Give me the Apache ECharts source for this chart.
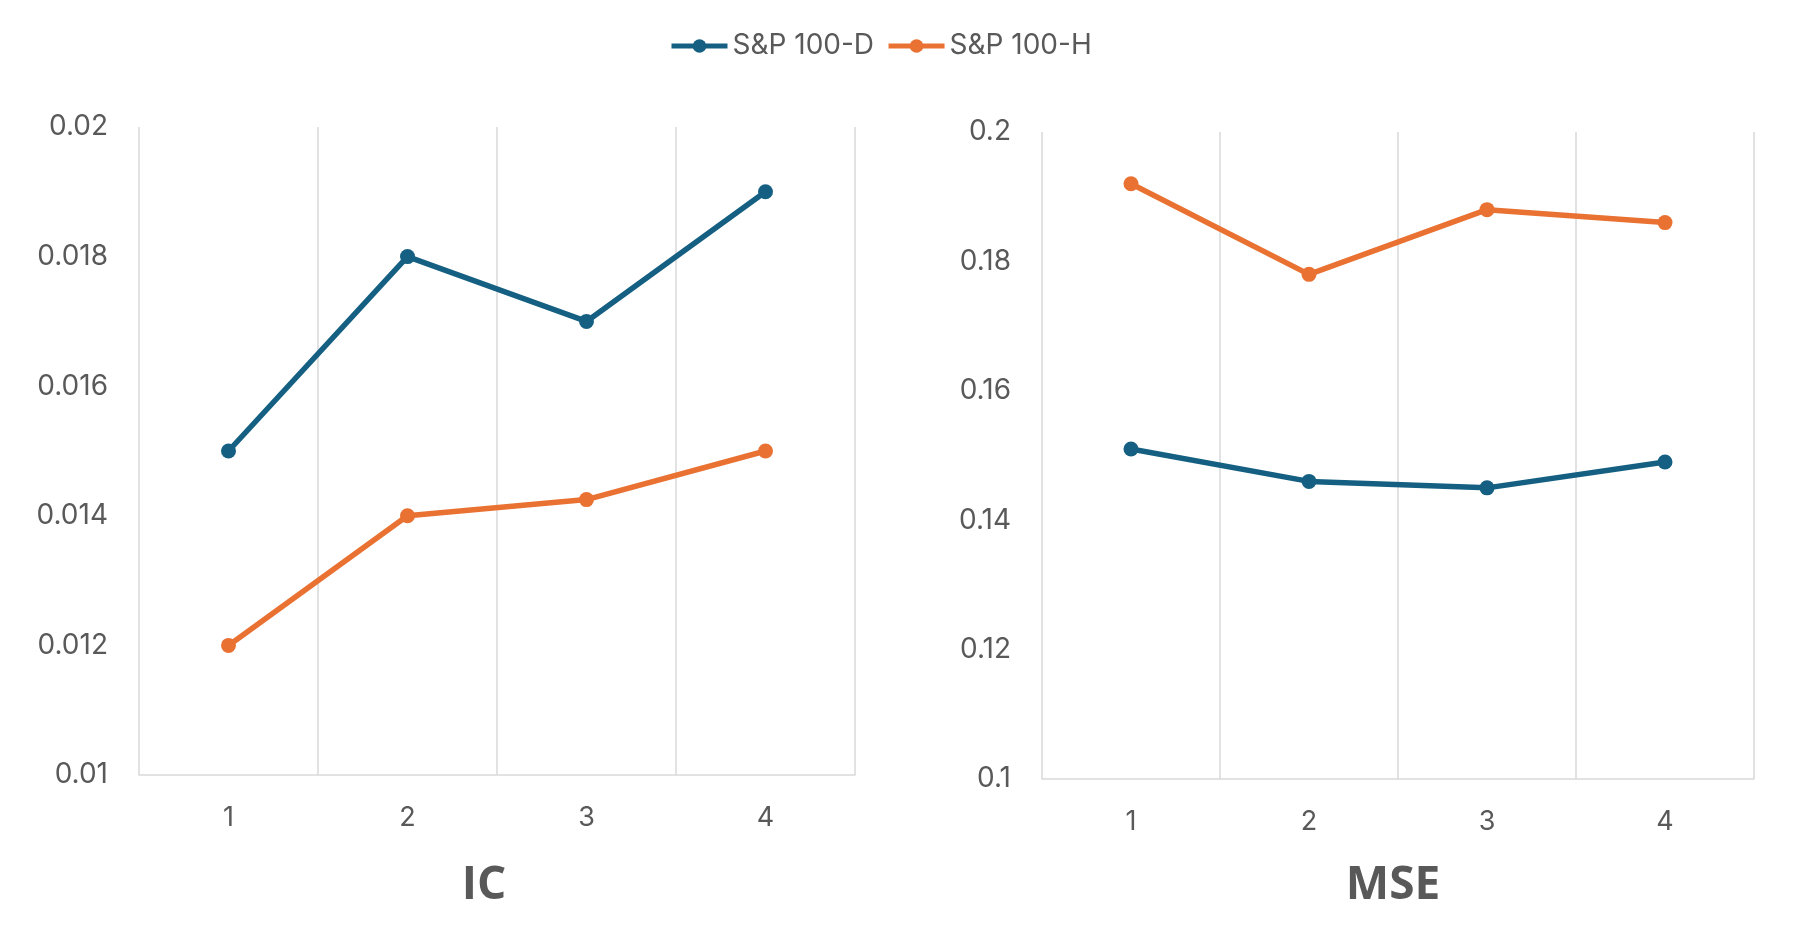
<!DOCTYPE html>
<html>
<head>
<meta charset="utf-8">
<script src="https://cdn.jsdelivr.net/npm/echarts@6/dist/echarts.min.js"></script>
<style>html,body{margin:0;padding:0;background:#fff;}#c{width:1815px;height:929px;}</style>
</head>
<body>
<div id="c"></div>
<script>
const categories = ['1', '2', '3', '4'];
const seriesNames = ['S&P 100-D', 'S&P 100-H'];
const icD = [0.015, 0.018, 0.017, 0.019];
const icH = [0.012, 0.014, 0.01425, 0.015];
const mseD = [0.151, 0.146, 0.145, 0.149];
const mseH = [0.192, 0.178, 0.188, 0.186];
const icTicks = [0.01, 0.012, 0.014, 0.016, 0.018, 0.02];
const mseTicks = [0.1, 0.12, 0.14, 0.16, 0.18, 0.2];
const panelTitles = ['IC', 'MSE'];

const blue = '#156082', orange = '#E97132', gray = '#595959', grid = '#d9d9d9';
const font = 'Inter, "Noto Sans", sans-serif';

function xAx(gi) {
  return {
    type: 'category', gridIndex: gi, data: categories, boundaryGap: true,
    axisLine: { show: true, lineStyle: { color: grid, width: 1.5 } },
    axisTick: { show: false },
    axisLabel: { color: gray, fontSize: 27, fontFamily: font, margin: 29 },
    splitLine: { show: true, lineStyle: { color: grid, width: 1.5 } }
  };
}
function yAx(gi, ticks) {
  return {
    type: 'value', gridIndex: gi, min: ticks[0], max: ticks[ticks.length - 1],
    interval: +(ticks[1] - ticks[0]).toFixed(6),
    axisLine: { show: false }, axisTick: { show: false },
    splitLine: { show: false },
    axisLabel: { color: gray, fontSize: 28, fontFamily: font, margin: 31,
      formatter: v => String(+v.toFixed(6)) }
  };
}
function ser(name, gi, data, color) {
  return {
    name: name, type: 'line', xAxisIndex: gi, yAxisIndex: gi, data: data,
    symbol: 'circle', symbolSize: 15, color: color,
    lineStyle: { width: 5.5, color: color }, itemStyle: { color: color },
    z: name === seriesNames[0] ? 3 : 2
  };
}

const chart = echarts.init(document.getElementById('c'), null, { renderer: 'canvas' });
chart.setOption({
  animation: false,
  backgroundColor: '#fff',
  legend: {
    data: seriesNames, left: 664, top: 25, itemWidth: 56, itemHeight: 17, itemGap: 12,
    lineStyle: { width: 5 },
    textStyle: { color: gray, fontSize: 28, fontFamily: font, lineHeight: 32 }
  },
  grid: [
    { left: 139, right: 960, top: 127, bottom: 154 },
    { left: 1042, right: 61, top: 132, bottom: 150 }
  ],
  xAxis: [xAx(0), xAx(1)],
  yAxis: [yAx(0, icTicks), yAx(1, mseTicks)],
  series: [
    ser(seriesNames[0], 0, icD, blue),
    ser(seriesNames[1], 0, icH, orange),
    ser(seriesNames[0], 1, mseD, blue),
    ser(seriesNames[1], 1, mseH, orange)
  ],
  graphic: [
    { type: 'text', x: 484, y: 886, style: { text: panelTitles[0], fill: gray, font: 'bold 46px "Open Sans", sans-serif', align: 'center', verticalAlign: 'middle' } },
    { type: 'text', x: 1393, y: 886, style: { text: panelTitles[1], fill: gray, font: 'bold 46px "Open Sans", sans-serif', align: 'center', verticalAlign: 'middle' } }
  ]
});
</script>
</body>
</html>
